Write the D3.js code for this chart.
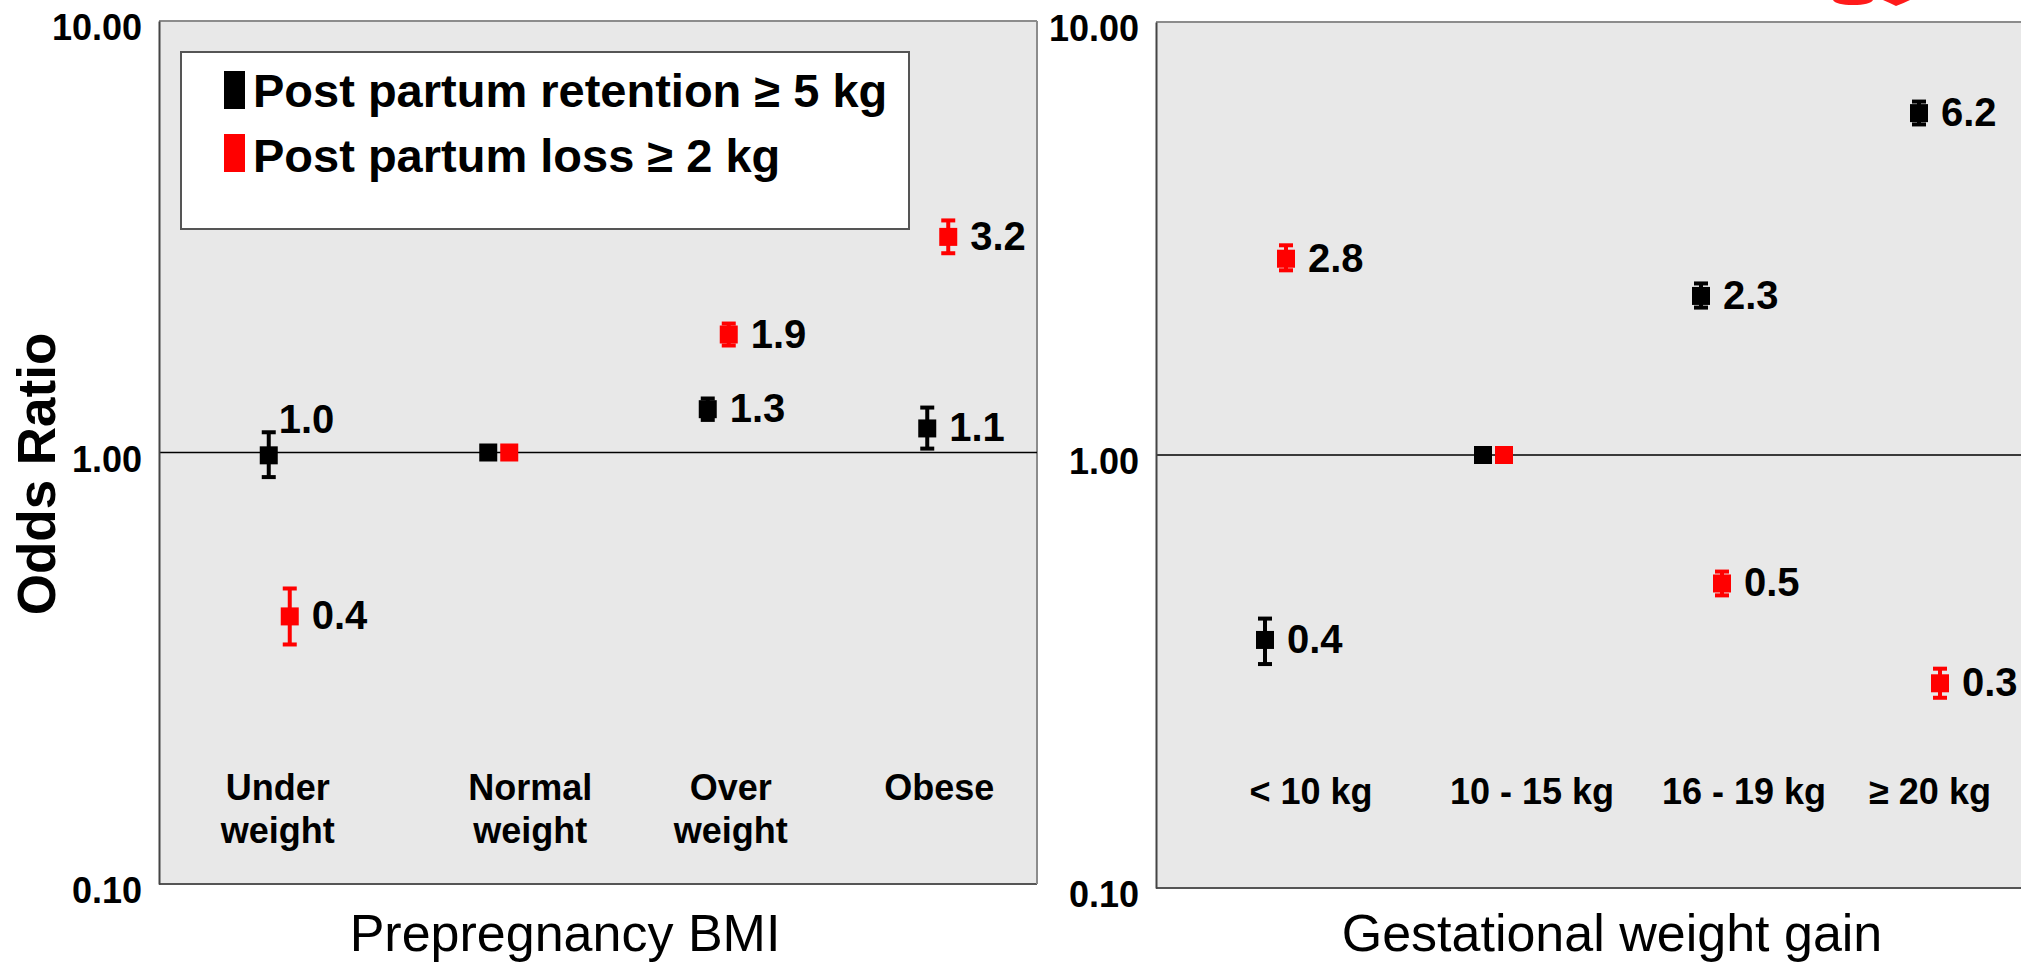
<!DOCTYPE html>
<html>
<head>
<meta charset="utf-8">
<script src="https://cdn.jsdelivr.net/npm/d3@7"></script>
<style>
  html, body { margin: 0; padding: 0; background: #ffffff; }
  svg { display: block; font-family: "Liberation Sans", Arial, Helvetica, sans-serif; }
</style>
</head>
<body>
<svg id="chart" width="2021" height="964"></svg>
<script>
// ---- data -------------------------------------------------------------
const seriesNames = ["Post partum retention \u2265 5 kg", "Post partum loss \u2265 2 kg"];
const yTicks = [0.1, 1, 10];

// Prepregnancy BMI
const bmiCategories = ["Under\nweight", "Normal\nweight", "Over\nweight", "Obese"];
const bmiRetention     = [0.985, 1.0, 1.26, 1.137];
const bmiRetentionLow  = [0.877, null, 1.19, 1.021];
const bmiRetentionHigh = [1.114, null, 1.334, 1.271];
const bmiLoss          = [0.417, 1.0, 1.877, 3.16];
const bmiLossLow       = [0.359, null, 1.77, 2.896];
const bmiLossHigh      = [0.484, null, 1.99, 3.45];

// Gestational weight gain
const gainCategories = ["< 10 kg", "10 - 15 kg", "16 - 19 kg", "\u2265 20 kg"];
const gainRetention     = [0.374, 1.0, 2.33, 6.16];
const gainRetentionLow  = [0.329, null, 2.19, 5.80];
const gainRetentionHigh = [0.419, null, 2.49, 6.55];
const gainLoss          = [2.84, 1.0, 0.505, 0.297];
const gainLossLow       = [2.67, null, 0.474, 0.275];
const gainLossHigh      = [3.05, null, 0.538, 0.321];

// ---- layout -----------------------------------------------------------
const seriesColors = ["#000000", "#ff0000"];
const svg = d3.select("#chart");
const fmtOR = d3.format(".1f");

const panels = [
  {
    x0: 159, x1: 1037, top: 21, bottom: 884,
    categories: bmiCategories,
    series: [
      { v: bmiRetention, lo: bmiRetentionLow, hi: bmiRetentionHigh },
      { v: bmiLoss, lo: bmiLossLow, hi: bmiLossHigh }
    ],
    labelShift: [9, 42, 23, 12],
    labelBaseline: 800,
    title: "Prepregnancy BMI", titleX: 565,
    rightBorder: true
  },
  {
    x0: 1156, x1: 2028, top: 22, bottom: 888,
    categories: gainCategories,
    series: [
      { v: gainRetention, lo: gainRetentionLow, hi: gainRetentionHigh },
      { v: gainLoss, lo: gainLossLow, hi: gainLossHigh }
    ],
    labelShift: [46, 49, 43, 11],
    labelBaseline: 804,
    title: "Gestational weight gain", titleX: 1612,
    rightBorder: false
  }
];

const pairOffset = 21;   // horizontal gap between the two series at one category
const markerSize = 18;
const capWidth = 14;

panels.forEach(p => {
  const g = svg.append("g");

  const x = d3.scaleBand().domain(p.categories).range([p.x0, p.x1]);
  const y = d3.scaleLog().domain([0.1, 10]).range([p.bottom, p.top]);

  // plot background and frame
  g.append("rect")
    .attr("x", p.x0).attr("y", p.top)
    .attr("width", p.x1 - p.x0).attr("height", p.bottom - p.top)
    .attr("fill", "#e8e8e8");
  g.append("line").attr("x1", p.x0).attr("x2", p.x1).attr("y1", p.top).attr("y2", p.top)
    .attr("stroke", "#8c8c8c").attr("stroke-width", 2);
  g.append("line").attr("x1", p.x0).attr("x2", p.x1).attr("y1", p.bottom).attr("y2", p.bottom)
    .attr("stroke", "#555").attr("stroke-width", 2);
  if (p.rightBorder) {
    g.append("line").attr("x1", p.x1).attr("x2", p.x1).attr("y1", p.top).attr("y2", p.bottom)
      .attr("stroke", "#8c8c8c").attr("stroke-width", 2);
  }

  // reference line at OR = 1
  g.append("line")
    .attr("x1", p.x0).attr("x2", p.x1)
    .attr("y1", y(1)).attr("y2", y(1))
    .attr("stroke", "#000").attr("stroke-width", 1.5);

  // y axis
  const yAxis = d3.axisLeft(y).tickValues(yTicks).tickFormat(d3.format(".2f"))
    .tickSize(0).tickPadding(17);
  const ya = g.append("g").attr("transform", `translate(${p.x0},0)`).call(yAxis);
  ya.select(".domain").attr("stroke", "#444").attr("stroke-width", 2);
  ya.selectAll("text")
    .attr("fill", "#000")
    .attr("font-size", 36).attr("font-weight", "bold")
    .attr("font-family", "'Liberation Sans', Arial, sans-serif")
    .attr("transform", "translate(0,7)");

  // category labels inside the plot
  p.categories.forEach((c, i) => {
    const cx = x(c) + x.bandwidth() / 2 + p.labelShift[i];
    const t = g.append("text")
      .attr("x", cx).attr("y", p.labelBaseline)
      .attr("text-anchor", "middle")
      .attr("font-size", 36).attr("font-weight", "bold").attr("fill", "#000");
    c.split("\n").forEach((line, k) => {
      t.append("tspan").attr("x", cx).attr("dy", k === 0 ? 0 : 43).text(line);
    });
  });

  // odds ratios with confidence intervals
  p.series.forEach((s, si) => {
    const color = seriesColors[si];
    p.categories.forEach((c, i) => {
      const cx = x(c) + x.bandwidth() / 2 + si * pairOffset;
      const v = s.v[i];
      const cy = y(v);
      if (s.lo[i] != null) {
        const yl = y(s.lo[i]), yh = y(s.hi[i]);
        g.append("line").attr("x1", cx).attr("x2", cx).attr("y1", yh).attr("y2", yl)
          .attr("stroke", color).attr("stroke-width", 4);
        [yh, yl].forEach(yy => {
          g.append("rect")
            .attr("x", cx - capWidth / 2).attr("y", yy - 2)
            .attr("width", capWidth).attr("height", 4)
            .attr("fill", color);
        });
      }
      g.append("rect")
        .attr("x", cx - markerSize / 2).attr("y", cy - markerSize / 2)
        .attr("width", markerSize).attr("height", markerSize)
        .attr("fill", color);

      // value label (the reference category carries none)
      if (s.lo[i] != null) {
        const onRefLine = Math.abs(Math.log10(v)) < 0.02;
        g.append("text")
          .attr("x", onRefLine ? cx + 10 : cx + 22)
          .attr("y", onRefLine ? cy - 22 : cy + 13)
          .attr("font-size", 40).attr("font-weight", "bold").attr("fill", "#000")
          .text(fmtOR(v));
      }
    });
  });

  // x-axis title
  g.append("text")
    .attr("x", p.titleX).attr("y", 951)
    .attr("text-anchor", "middle")
    .attr("font-size", 52).attr("fill", "#000")
    .text(p.title);
});

// y-axis title
svg.append("text")
  .attr("transform", "translate(55,474) rotate(-90)")
  .attr("text-anchor", "middle")
  .attr("font-size", 53).attr("font-weight", "bold").attr("fill", "#000")
  .text("Odds Ratio");

// legend
const legend = svg.append("g");
legend.append("rect")
  .attr("x", 181).attr("y", 52).attr("width", 728).attr("height", 177)
  .attr("fill", "#ffffff").attr("stroke", "#555").attr("stroke-width", 2);
seriesNames.forEach((name, i) => {
  legend.append("rect")
    .attr("x", 224).attr("y", 71 + i * 63).attr("width", 21).attr("height", 38)
    .attr("fill", seriesColors[i]);
  legend.append("text")
    .attr("x", 253).attr("y", 107 + i * 65)
    .attr("font-size", 47).attr("font-weight", "bold").attr("fill", "#000")
    .text(name);
});

// tips of a red pen mark cut off by the top edge
svg.append("path")
  .attr("d", "M1833,0 Q1836,5 1853,5 Q1870,5 1873,0 Z")
  .attr("fill", "#ff1a1a");
svg.append("path")
  .attr("d", "M1883,0 Q1890,3 1896,6 Q1904,3 1910,0 Z")
  .attr("fill", "#ff1a1a");
</script>
</body>
</html>
